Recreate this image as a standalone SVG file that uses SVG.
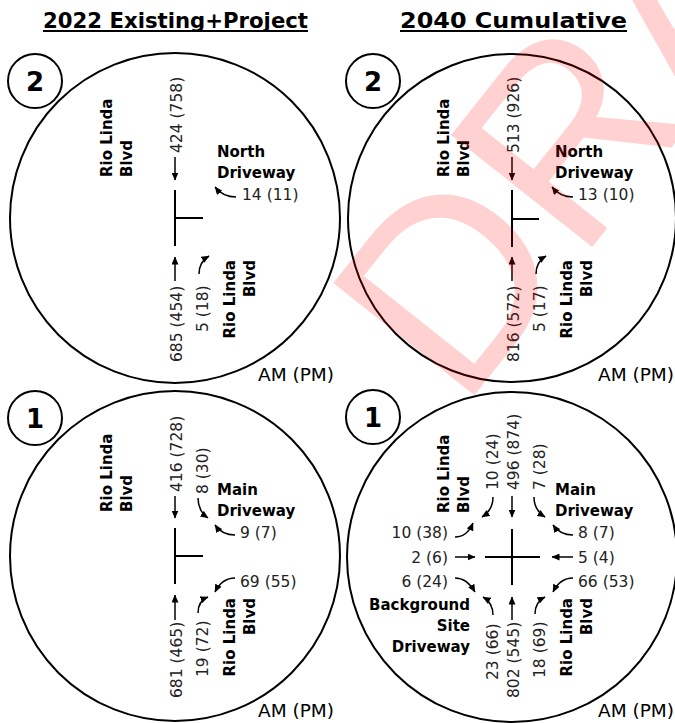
<svg xmlns="http://www.w3.org/2000/svg" width="675" height="723" viewBox="0 0 675 723">
<defs>
<style>
.title{font-family:"DejaVu Sans",Verdana,sans-serif;font-weight:bold;font-size:21px;fill:#000;}
.lbl{font-family:"DejaVu Sans",Verdana,sans-serif;font-weight:bold;font-size:15px;fill:#000;}
.num{font-family:"DejaVu Sans",Verdana,sans-serif;font-size:15.5px;fill:#222;}
.ampm{font-family:"DejaVu Sans",Verdana,sans-serif;font-size:18.5px;fill:#000;}
.idn{font-family:"DejaVu Sans",Verdana,sans-serif;font-weight:bold;font-size:26px;fill:#000;text-anchor:middle;}
.ring{fill:none;stroke:#000;stroke-width:2;}
.road{fill:none;stroke:#000;stroke-width:2;}
.arr{fill:none;stroke:#000;stroke-width:1.5;marker-end:url(#ah);}
.end{text-anchor:end;}
.wm{font-family:"Liberation Sans",Arial,sans-serif;font-size:262px;fill:#ff0000;fill-opacity:0.18;}
</style>
<marker id="ah" markerUnits="userSpaceOnUse" markerWidth="8" markerHeight="7" refX="7.5" refY="3.5" orient="auto">
<path d="M0,0 L8,3.5 L0,7 z" fill="#000"/>
</marker>
</defs>
<rect width="675" height="723" fill="#fff"/>

<g id="titles">
<text class="title" x="43" y="28" textLength="265" lengthAdjust="spacingAndGlyphs">2022 Existing+Project</text>
<rect x="43" y="30" width="265" height="2" fill="#000"/>
<text class="title" x="400" y="28" textLength="227" lengthAdjust="spacingAndGlyphs">2040 Cumulative</text>
<rect x="400" y="30" width="227" height="2" fill="#000"/>
</g>

<g id="int2-2022">
<circle class="ring" cx="175" cy="218" r="165"/>
<circle class="ring" cx="35" cy="81" r="27"/>
<text class="idn" x="35" y="90.5">2</text>
<text class="lbl" transform="translate(112,177) rotate(-90)">Rio Linda</text>
<text class="lbl" transform="translate(132,177) rotate(-90)">Blvd</text>
<text class="lbl" x="217" y="157">North</text>
<text class="lbl" x="217" y="178">Driveway</text>
<text class="lbl end" transform="translate(235,260) rotate(-90)">Rio Linda</text>
<text class="lbl end" transform="translate(255,260) rotate(-90)">Blvd</text>
<text class="num" transform="translate(182,153) rotate(-90)">424 (758)</text>
<text class="num" x="242" y="200">14 (11)</text>
<text class="num" transform="translate(182,362) rotate(-90)">685 (454)</text>
<text class="num" transform="translate(208,332) rotate(-90)">5 (18)</text>
<text class="ampm" x="258" y="381">AM (PM)</text>
</g>

<g id="int2-2040">
<circle class="ring" cx="512" cy="218" r="164"/>
<circle class="ring" cx="373" cy="81" r="27"/>
<text class="idn" x="373" y="90.5">2</text>
<text class="lbl" transform="translate(449,177) rotate(-90)">Rio Linda</text>
<text class="lbl" transform="translate(469,177) rotate(-90)">Blvd</text>
<text class="lbl" x="555" y="157">North</text>
<text class="lbl" x="555" y="178">Driveway</text>
<text class="lbl end" transform="translate(572,260) rotate(-90)">Rio Linda</text>
<text class="lbl end" transform="translate(592,260) rotate(-90)">Blvd</text>
<text class="num" transform="translate(519,153) rotate(-90)">513 (926)</text>
<text class="num" x="578" y="200">13 (10)</text>
<text class="num" transform="translate(519,362) rotate(-90)">816 (572)</text>
<text class="num" transform="translate(545,332) rotate(-90)">5 (17)</text>
<text class="ampm" x="598" y="381">AM (PM)</text>
</g>

<g id="int1-2022">
<circle class="ring" cx="175" cy="556" r="165"/>
<circle class="ring" cx="35" cy="418" r="27"/>
<text class="idn" x="35" y="427.5">1</text>
<text class="lbl" transform="translate(112,512) rotate(-90)">Rio Linda</text>
<text class="lbl" transform="translate(132,512) rotate(-90)">Blvd</text>
<text class="lbl" x="217" y="495">Main</text>
<text class="lbl" x="217" y="516">Driveway</text>
<text class="lbl end" transform="translate(235,598) rotate(-90)">Rio Linda</text>
<text class="lbl end" transform="translate(255,598) rotate(-90)">Blvd</text>
<text class="num" transform="translate(182,492) rotate(-90)">416 (728)</text>
<text class="num" transform="translate(208,494) rotate(-90)">8 (30)</text>
<text class="num" x="240" y="538">9 (7)</text>
<text class="num" x="240" y="587">69 (55)</text>
<text class="num" transform="translate(182,698) rotate(-90)">681 (465)</text>
<text class="num" transform="translate(208,677) rotate(-90)">19 (72)</text>
<text class="ampm" x="258" y="717">AM (PM)</text>
</g>

<g id="int1-2040">
<circle class="ring" cx="512" cy="557" r="165"/>
<circle class="ring" cx="373" cy="417" r="27"/>
<text class="idn" x="373" y="426.5">1</text>
<text class="lbl" transform="translate(449,513) rotate(-90)">Rio Linda</text>
<text class="lbl" transform="translate(469,513) rotate(-90)">Blvd</text>
<text class="lbl" x="555" y="495">Main</text>
<text class="lbl" x="555" y="516">Driveway</text>
<text class="lbl end" transform="translate(572,598) rotate(-90)">Rio Linda</text>
<text class="lbl end" transform="translate(592,598) rotate(-90)">Blvd</text>
<text class="lbl end" x="470" y="610">Background</text>
<text class="lbl end" x="470" y="631">Site</text>
<text class="lbl end" x="470" y="652">Driveway</text>
<text class="num" transform="translate(498,490) rotate(-90)">10 (24)</text>
<text class="num" transform="translate(519,490) rotate(-90)">496 (874)</text>
<text class="num" transform="translate(545,490) rotate(-90)">7 (28)</text>
<text class="num" x="578" y="538">8 (7)</text>
<text class="num" x="578" y="563">5 (4)</text>
<text class="num" x="578" y="587">66 (53)</text>
<text class="num end" x="448" y="538">10 (38)</text>
<text class="num end" x="448" y="563">2 (6)</text>
<text class="num end" x="448" y="587">6 (24)</text>
<text class="num" transform="translate(498,680) rotate(-90)">23 (66)</text>
<text class="num" transform="translate(519,698) rotate(-90)">802 (545)</text>
<text class="num" transform="translate(545,678) rotate(-90)">18 (69)</text>
<text class="ampm" x="598" y="717">AM (PM)</text>
</g>

<g id="connectors">
<path class="road" d="M175,190 V246 M175,218 H203"/>
<path class="arr" d="M175,157 V180"/>
<path class="arr" d="M236,197 Q223,197 215,187"/>
<path class="arr" d="M175,281 V257"/>
<path class="arr" d="M199,274 Q199,262 209,256"/>

<path class="road" d="M512,190 V247 M512,219 H539"/>
<path class="arr" d="M512,157 V180"/>
<path class="arr" d="M573,197 Q560,197 552,187"/>
<path class="arr" d="M512,281 V257"/>
<path class="arr" d="M536,274 Q536,262 546,256"/>

<path class="road" d="M175,528 V584 M175,556 H203"/>
<path class="arr" d="M175,496 V518"/>
<path class="arr" d="M198,498 Q198,511 208,518"/>
<path class="arr" d="M235,535 Q222,535 215,525"/>
<path class="arr" d="M235,578 Q222,578 215,592"/>
<path class="arr" d="M175,620 V595"/>
<path class="arr" d="M198,613 Q198,601 208,597"/>

<path class="road" d="M512,529 V585 M485,557 H540"/>
<path class="arr" d="M493,497 Q493,510 482,517"/>
<path class="arr" d="M512,496 V517"/>
<path class="arr" d="M534,497 Q534,510 545,517"/>
<path class="arr" d="M573,535 Q560,535 553,525"/>
<path class="arr" d="M573,557 H552"/>
<path class="arr" d="M573,578 Q560,578 553,592"/>
<path class="arr" d="M455,537 Q467,537 473,523"/>
<path class="arr" d="M455,557 H475"/>
<path class="arr" d="M455,578 Q467,578 475,592"/>
<path class="arr" d="M493,615 Q493,603 483,597"/>
<path class="arr" d="M512,620 V597"/>
<path class="arr" d="M535,614 Q535,602 545,597"/>
</g>

<g id="watermark">
<text class="wm" transform="translate(461,412) rotate(-51.5)">DRAFT</text>
</g>
</svg>
